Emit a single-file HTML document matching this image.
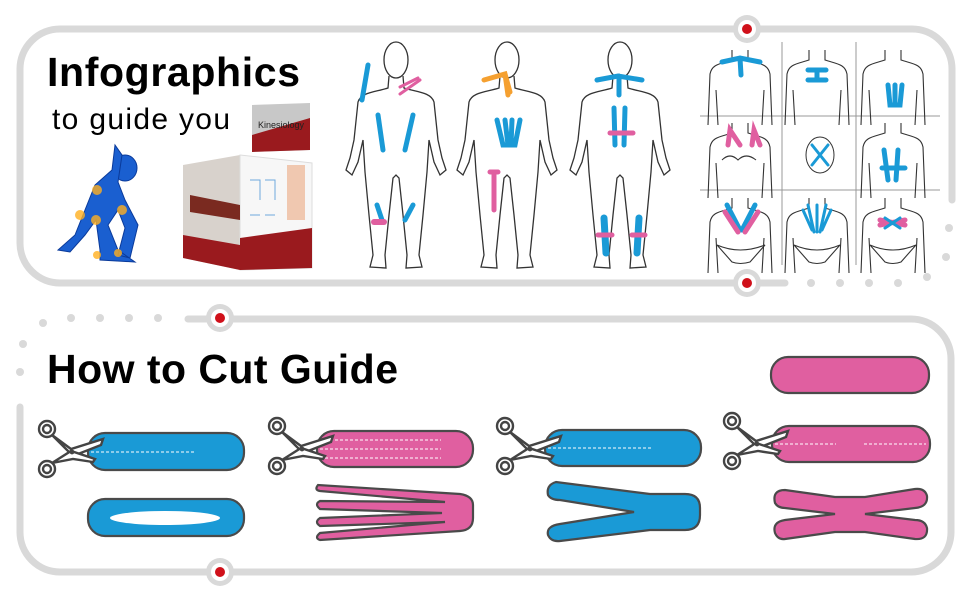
<!DOCTYPE html>
<html><head><meta charset="utf-8"><style>
html,body{margin:0;padding:0;background:#fff;width:970px;height:601px;overflow:hidden}
svg{display:block}
text{font-family:"Liberation Sans",sans-serif}
</style></head><body>
<svg width="970" height="601" viewBox="0 0 970 601" xmlns="http://www.w3.org/2000/svg">
<defs>
<g id="body" fill="none" stroke="#333" stroke-width="1.3">
<ellipse cx="0" cy="20" rx="12" ry="18"/>
<path d="M-7,36 L-8,48 C-20,52 -35,52 -38,62 L-42,100 L-46,118 L-50,130 L-44,135 L-38,122 L-33,100 L-31,132 L-27,175 L-23,215 L-26,227 L-10,228 L-11,215 L-7,175 L-3,138 L0,135 L3,138 L7,175 L11,215 L10,228 L26,227 L23,215 L27,175 L31,132 L33,100 L38,122 L44,135 L50,130 L46,118 L42,100 L38,62 C35,52 20,52 8,48 L7,36"/>
</g>
<g id="torso" fill="none" stroke="#333" stroke-width="1.1">
<path d="M-8,0 L-8,10 C-20,14 -28,14 -30,24 L-32,75 M8,0 L8,10 C20,14 28,14 30,24 L32,75 M-24,40 L-22,75 M24,40 L22,75"/>
</g>
<g id="sc" fill="none" stroke="#444" stroke-width="2.4">
<path d="M5,6 L24,20 L56,10 L54,16 L26,27 Z" fill="#fff"/>
<path d="M5,34 L24,22 L48,30 L46,33 L26,30 Z" fill="#fff"/>
<circle cx="0" cy="0" r="8" fill="#fff"/><circle cx="0" cy="0" r="4"/>
<circle cx="0" cy="40" r="8" fill="#fff"/><circle cx="0" cy="40" r="4"/>
<circle cx="25" cy="23" r="1.2" fill="#444"/>
</g>
</defs>

<g fill="none" stroke="#d9d9d9" stroke-width="7" stroke-linecap="round">
<path d="M785,283 L60,283 A40,40 0 0 1 20,243 L20,69 A40,40 0 0 1 60,29 L912,29 A40,40 0 0 1 952,69 L952,200"/>
<path d="M188,319 L911,319 A40,40 0 0 1 951,359 L951,532 A40,40 0 0 1 911,572 L60,572 A40,40 0 0 1 20,532 L20,407"/>
</g>
<g fill="#d9d9d9">
<circle cx="949" cy="228" r="4"/><circle cx="946" cy="257" r="4"/><circle cx="927" cy="277" r="4"/><circle cx="898" cy="283" r="4"/><circle cx="869" cy="283" r="4"/><circle cx="840" cy="283" r="4"/><circle cx="811" cy="283" r="4"/>
<circle cx="43" cy="323" r="4"/><circle cx="71" cy="318" r="4"/><circle cx="100" cy="318" r="4"/><circle cx="129" cy="318" r="4"/><circle cx="158" cy="318" r="4"/><circle cx="23" cy="344" r="4"/><circle cx="20" cy="372" r="4"/>
<circle cx="747" cy="29" r="14"/><circle cx="747" cy="283" r="14"/><circle cx="220" cy="318" r="14"/><circle cx="220" cy="572" r="14"/>
</g>
<g fill="#fff"><circle cx="747" cy="29" r="9"/><circle cx="747" cy="283" r="9"/><circle cx="220" cy="318" r="9"/><circle cx="220" cy="572" r="9"/></g>
<g fill="#d0101a"><circle cx="747" cy="29" r="5"/><circle cx="747" cy="283" r="5"/><circle cx="220" cy="318" r="5"/><circle cx="220" cy="572" r="5"/></g>

<text x="47" y="86" font-size="41" font-weight="bold" fill="#000" textLength="253">Infographics</text>
<text x="52" y="129" font-size="30" fill="#000" textLength="178">to guide you</text>
<text x="47" y="383" font-size="41" font-weight="bold" fill="#000" textLength="351">How to Cut Guide</text>

<g fill="#1a5fd0" stroke="#0a3a9a" stroke-width="1">
<ellipse cx="125" cy="168" rx="12" ry="13"/>
<path d="M115,145 L112,170 L95,185 L85,210 L75,235 L58,250 L70,252 L85,235 L96,220 L100,250 L100,260 L135,262 L118,250 L108,225 L118,210 L125,228 L118,255 L130,258 L138,225 L125,200 L118,182 L122,155 Z"/>
</g>
<g fill="#ffb020" opacity=".8"><circle cx="97" cy="190" r="5"/><circle cx="80" cy="215" r="5"/><circle cx="96" cy="220" r="5"/><circle cx="122" cy="210" r="5"/><circle cx="118" cy="253" r="4"/><circle cx="97" cy="255" r="4"/></g>

<path d="M252,105 L310,103 L310,150 L252,152 Z" fill="#c8c8c8"/>
<path d="M252,135 L310,118 L310,150 L252,152 Z" fill="#9a1a1e"/>
<text x="258" y="128" font-size="9" fill="#222">Kinesiology</text>
<path d="M183,165 L240,155 L240,270 L183,258 Z" fill="#d8d2cc"/>
<path d="M240,155 L312,163 L312,268 L240,270 Z" fill="#f7f7f7" stroke="#ddd"/>
<path d="M240,238 L312,228 L312,268 L240,270 Z" fill="#9a1a1e"/>
<path d="M183,235 L240,245 L240,270 L183,258 Z" fill="#9a1a1e"/>
<path d="M190,195 L240,205 L240,220 L190,212 Z" fill="#7a2a20"/>
<rect x="287" y="165" width="18" height="55" fill="#f0c8b0"/>
<g stroke="#6fa8dc" stroke-width="1" fill="none"><path d="M250,180 l10,0 l0,20 M265,180 l10,0 l0,20 M250,215 l10,0 M265,215 l10,0"/></g>

<use href="#body" transform="translate(396,40)"/>
<use href="#body" transform="translate(507,40)"/>
<use href="#body" transform="translate(620,40)"/>
<g fill="none" stroke-linecap="round" stroke-width="5">
<path d="M368,65 L362,100 M378,115 L383,150 M413,115 L405,150 M377,205 L382,220 M413,205 L405,220" stroke="#1a9ad6"/>
<path d="M400,87 L418,78 M400,94 L420,80" stroke="#e05fa0" stroke-width="3"/>
<path d="M374,222 L384,222" stroke="#e05fa0" stroke-width="6"/>
<path d="M484,80 L505,74 L510,92 M505,74 L508,95" stroke="#f5a030"/>
<path d="M497,120 L503,145 L515,145 L520,120 M505,120 L508,145 M512,120 L511,145" stroke="#1a9ad6"/>
<path d="M490,172 L498,172 M494,172 L494,210" stroke="#e05fa0"/>
<path d="M597,80 L618,76 L642,80 M619,76 L619,95" stroke="#1a9ad6"/>
<path d="M614,108 L615,145 M625,108 L624,145" stroke="#1a9ad6"/>
<path d="M610,133 L633,133" stroke="#e05fa0"/>
<path d="M604,218 L606,253 M639,218 L637,253" stroke="#1a9ad6" stroke-width="7"/>
<path d="M598,235 L612,235 M632,235 L645,235" stroke="#e05fa0"/>
</g>

<g stroke="#999" stroke-width="1"><line x1="782" y1="42" x2="782" y2="265"/><line x1="856" y1="42" x2="856" y2="265"/><line x1="700" y1="116" x2="940" y2="116"/><line x1="700" y1="190" x2="940" y2="190"/></g>
<use href="#torso" transform="translate(740,50)"/>
<use href="#torso" transform="translate(817,50)"/>
<use href="#torso" transform="translate(893,50)"/>
<use href="#torso" transform="translate(740,123)"/>
<use href="#torso" transform="translate(893,123)"/>
<use href="#torso" transform="translate(740,198)"/>
<use href="#torso" transform="translate(817,198)"/>
<use href="#torso" transform="translate(893,198)"/>
<ellipse cx="820" cy="155" rx="14" ry="18" fill="none" stroke="#333"/>
<g fill="none" stroke-linecap="round" stroke-width="5">
<path d="M722,62 L740,58 L760,62 M740,58 L741,75" stroke="#1a9ad6"/>
<path d="M808,70 L826,70 M817,70 L817,80 M808,80 L826,80" stroke="#1a9ad6"/>
<path d="M888,85 L890,105 L900,105 L902,85 M895,85 L895,105" stroke="#1a9ad6"/>
<path d="M728,145 L730,130 L740,145 M752,145 L754,130 L760,145" stroke="#e05fa0"/>
<path d="M884,150 L888,180 M898,150 L896,180 M882,168 L905,168" stroke="#1a9ad6"/>
<path d="M812,145 L828,165 M828,145 L812,165" stroke="#1a9ad6" stroke-width="3"/>
<path d="M727,205 L740,230 M755,205 L742,230" stroke="#1a9ad6"/>
<path d="M725,212 L738,232 M758,212 L745,232" stroke="#e05fa0"/>
<path d="M803,210 L812,230 M817,205 L817,232 M831,210 L822,230 M808,205 L814,232 M826,205 L820,232" stroke="#1a9ad6" stroke-width="3"/>
<path d="M880,220 L905,225 M880,225 L905,220" stroke="#e05fa0"/>
<path d="M885,218 L900,228 M885,228 L900,218" stroke="#1a9ad6" stroke-width="3"/>
</g>
<g fill="none" stroke="#333" stroke-width="1.1">
<path d="M717,245 Q740,255 765,245 L750,262 Q740,265 732,262 Z"/>
<path d="M794,245 Q817,255 840,245 L825,262 Q817,265 809,262 Z"/>
<path d="M870,245 Q893,255 916,245 L901,262 Q893,265 885,262 Z"/>
<path d="M722,160 Q730,152 738,160 Q746,152 756,160"/>
</g>

<g stroke="#4a4a4a" stroke-width="2.2">
<rect x="88" y="433" width="156" height="37" rx="17" fill="#1a9ad6"/>
<rect x="88" y="499" width="156" height="37" rx="17" fill="#1a9ad6"/>
<rect x="317" y="431" width="156" height="36" rx="17" fill="#e05fa0"/>
<path d="M318,485 Q314,490 320,491 L445,502 L320,501 Q314,504 320,509 L442,513 L320,518 Q314,522 320,526 L445,522 L320,533 Q314,538 320,540 L460,531 Q473,530 473,518 L473,505 Q473,496 460,494 Z" fill="#e05fa0"/>
<rect x="545" y="430" width="156" height="36" rx="17" fill="#1a9ad6"/>
<path d="M556,482 Q546,485 548,495 Q551,500 560,500 L634,512 L560,524 Q546,526 548,535 Q551,542 560,541 L650,530 L685,530 Q700,530 700,515 L700,508 Q700,494 685,494 L650,494 Z" fill="#1a9ad6"/>
<rect x="771" y="357" width="158" height="36" rx="17" fill="#e05fa0"/>
<rect x="772" y="426" width="158" height="36" rx="17" fill="#e05fa0"/>
<path d="M785,490 Q772,490 775,503 Q778,508 785,508 L835,514 L785,520 Q772,522 775,533 Q778,540 785,539 L835,532 L865,532 L915,539 Q928,540 927,528 Q925,520 915,520 L865,514 L915,508 Q928,507 927,496 Q925,488 915,489 L865,497 L835,497 Z" fill="#e05fa0"/>
</g>
<ellipse cx="165" cy="518" rx="55" ry="7" fill="#fff"/>
<g stroke="#fff" stroke-width="1" stroke-dasharray="3,2" fill="none">
<line x1="91" y1="452" x2="195" y2="452"/>
<line x1="320" y1="440" x2="441" y2="440"/><line x1="320" y1="449" x2="441" y2="449"/><line x1="320" y1="458" x2="441" y2="458"/>
<line x1="548" y1="448" x2="651" y2="448"/>
<line x1="775" y1="444" x2="836" y2="444"/><line x1="864" y1="444" x2="926" y2="444"/>
</g>
<use href="#sc" transform="translate(47,429)"/>
<use href="#sc" transform="translate(277,426)"/>
<use href="#sc" transform="translate(505,426)"/>
<use href="#sc" transform="translate(732,421)"/>
</svg>
</body></html>
